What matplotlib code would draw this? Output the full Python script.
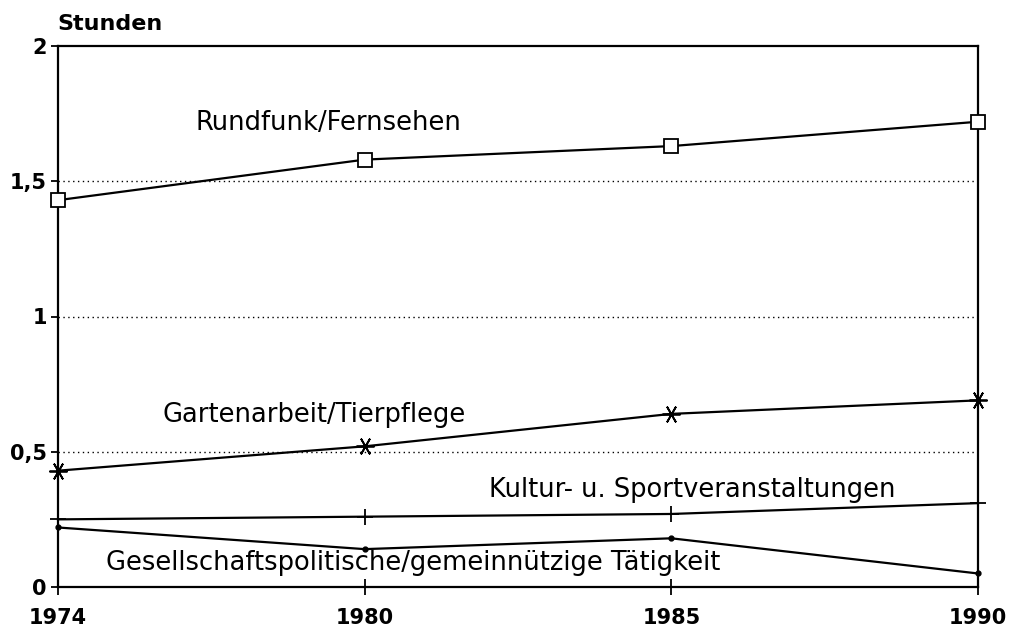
import numpy as np
import matplotlib
matplotlib.use("Agg")
import matplotlib.pyplot as plt

# Werte (Stunden pro Tag)
jahre = ["1974", "1980", "1985", "1990"]
rundfunk = [1.43, 1.58, 1.63, 1.72]
garten = [0.43, 0.52, 0.64, 0.69]
kultur = [0.25, 0.26, 0.27, 0.31]
gesellschaft = [0.22, 0.14, 0.18, 0.05]

y_ticks = [0, 0.5, 1, 1.5, 2]
y_labels = ["0", "0,5", "1", "1,5", "2"]

plt.rcParams['font.family'] = ['DejaVu Sans']

fig = plt.figure(figsize=(10.11, 6.29), dpi=100)
ax = fig.add_axes([58 / 1011, 42 / 629, 920 / 1011, 541 / 629])

x = np.arange(len(jahre))
lw = 1.6

ax.plot(x, rundfunk, color="black", lw=lw, marker="s", markersize=10,
        markerfacecolor="white", markeredgecolor="black", markeredgewidth=1.3,
        clip_on=False, zorder=3)
ax.plot(x, garten, color="black", lw=lw, marker=(6, 2, 30), markersize=13,
        markeredgewidth=1.3, clip_on=False, zorder=3)
ax.plot(x, kultur, color="black", lw=lw, marker="+", markersize=12,
        markeredgewidth=1.3, clip_on=False, zorder=3)
ax.plot(x, gesellschaft, color="black", lw=lw, marker="o", markersize=3.5,
        clip_on=False, zorder=3)

# Beschriftungen der Kurven
txt = dict(fontsize=18.5, color="black", ha="left", va="center")
ax.text(0.45, 1.715, "Rundfunk/Fernsehen", **txt)
ax.text(0.342, 0.636, "Gartenarbeit/Tierpflege", **txt)
ax.text(1.405, 0.359, "Kultur- u. Sportveranstaltungen", **txt)
ax.text(0.157, 0.089, "Gesellschaftspolitische/gemeinnützige Tätigkeit", **txt)

ax.set_xlim(0, 3)
ax.set_ylim(0, 2)
ax.set_xticks(x)
ax.set_xticklabels(jahre, fontsize=15, fontweight="bold")
ax.set_yticks(y_ticks)
ax.set_yticklabels(y_labels, fontsize=15, fontweight="bold")

ax.tick_params(axis="x", direction="inout", length=12, width=1.3, pad=9)
ax.tick_params(axis="y", direction="out", length=5, width=1.3, pad=3)

for y in y_ticks[1:-1]:
    ax.axhline(y, color="black", lw=1.0, ls=(0, (1, 2.5)), zorder=1)

for s in ax.spines.values():
    s.set_linewidth(1.6)

fig.text(57 / 1011, 1 - 24 / 629, "Stunden", fontsize=16, fontweight="bold",
         ha="left", va="center")

fig.savefig("out.png", dpi=100)
